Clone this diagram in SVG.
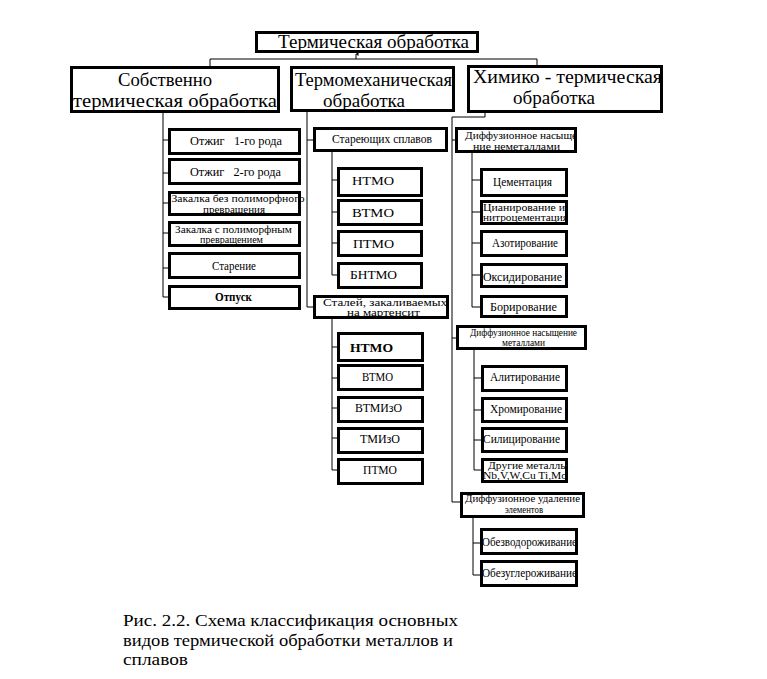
<svg xmlns="http://www.w3.org/2000/svg" width="767" height="679" viewBox="0 0 767 679">
<style>
.b{fill:#fff;stroke:#000;stroke-width:3}
.c{fill:none;stroke:#000;stroke-width:1}
text{font-family:"Liberation Serif","DejaVu Serif","Times New Roman",serif;fill:#000;text-anchor:middle}
.s{font-size:11.5px}
.m{font-size:12.5px}
.l{font-size:18px}
.t{font-size:19px}
.x{font-size:9.3px}
.cap{font-size:17.5px;text-anchor:start}
</style>
<defs>
<marker id="ar" markerWidth="4" markerHeight="4" refX="2" refY="0.5" orient="auto-start-reverse" markerUnits="userSpaceOnUse"><path d="M0,3 L2,0 L4,3 Z" fill="#000"/></marker>
</defs>
<rect width="767" height="679" fill="#fff"/>
<g id="connectors">
<path class="c" d="M356,59 V54" marker-end="url(#ar)"/>
<path class="c" d="M210,66 V59 H537 V65"/>
<path class="c" d="M163,113 V297 M163,140 H168 M163,173 H168 M163,203 H168 M163,233 H168 M163,268 H168 M163,297 H168"/>
<path class="c" d="M307,112 V307 H313 M307,140 H313"/>
<path class="c" d="M332,152 V275 M332,180 H337 M332,212 H337 M332,243 H337 M332,275 H337"/>
<path class="c" d="M332,318 V470 M332,347 H337 M332,378 H337 M332,408 H337 M332,438 H337 M332,470 H337"/>
<path class="c" d="M485,113 V117 H452 V502 H460 M452,140 H455 M452,338 H456"/>
<path class="c" d="M472,153 V307 M472,180 H480 M472,212 H480 M472,243 H480 M472,275 H480 M472,307 H480"/>
<path class="c" d="M474,350 V470 M474,378 H481 M474,410 H481 M474,440 H481 M474,470 H481"/>
<path class="c" d="M473,518 V575 M473,543 H480 M473,575 H480"/>
</g>
<g id="n-root"><rect class="b" x="256.5" y="32.5" width="221" height="19"/><text class="t" x="373.5" y="48" textLength="191" lengthAdjust="spacingAndGlyphs">Термическая обработка</text></g>
<g id="n-sobst"><rect class="b" x="71.5" y="67.5" width="207" height="44"/><text class="l"><tspan x="165" y="86" textLength="94" lengthAdjust="spacingAndGlyphs">Собственно</tspan><tspan x="175" y="106.5" textLength="204" lengthAdjust="spacingAndGlyphs">термическая обработка</tspan></text></g>
<g id="n-termomech"><rect class="b" x="291.5" y="67.5" width="162" height="43"/><text class="l"><tspan x="373.5" y="86" textLength="157" lengthAdjust="spacingAndGlyphs">Термомеханическая</tspan><tspan x="364" y="106.5" textLength="82" lengthAdjust="spacingAndGlyphs">обработка</tspan></text></g>
<g id="n-himiko"><rect class="b" x="468.5" y="66.5" width="193" height="45"/><text class="l"><tspan x="567.5" y="83" textLength="189" lengthAdjust="spacingAndGlyphs">Химико - термическая</tspan><tspan x="554" y="103.5" textLength="82" lengthAdjust="spacingAndGlyphs">обработка</tspan></text></g>

<g id="n-otzhig1"><rect class="b" x="169.5" y="129.5" width="130" height="24"/><text class="s" x="236" y="145" textLength="92" lengthAdjust="spacingAndGlyphs">Отжиг&#160;&#160;&#160;1-го рода</text></g>
<g id="n-otzhig2"><rect class="b" x="169.5" y="159.5" width="130" height="24"/><text class="s" x="235.5" y="176" textLength="91" lengthAdjust="spacingAndGlyphs">Отжиг&#160;&#160;&#160;2-го рода</text></g>
<g id="n-zakalka1"><rect class="b" x="169.5" y="192.5" width="130" height="22"/><text class="x"><tspan x="238" y="202" textLength="133" lengthAdjust="spacingAndGlyphs">Закалка без полиморфного</tspan><tspan x="234" y="212.5" textLength="62" lengthAdjust="spacingAndGlyphs">превращения</tspan></text></g>
<g id="n-zakalka2"><rect class="b" x="169.5" y="222.5" width="130" height="23"/><text class="x"><tspan x="233.5" y="232.5" textLength="117" lengthAdjust="spacingAndGlyphs">Закалка с полиморфным</tspan><tspan x="231.5" y="243" textLength="63" lengthAdjust="spacingAndGlyphs">превращением</tspan></text></g>
<g id="n-starenie"><rect class="b" x="169.5" y="253.5" width="130" height="24"/><text class="s" x="234" y="270" textLength="44" lengthAdjust="spacingAndGlyphs">Старение</text></g>
<g id="n-otpusk"><rect class="b" x="169.5" y="286.5" width="130" height="22"/><text class="s" x="233.5" y="301" font-weight="bold" textLength="37" lengthAdjust="spacingAndGlyphs">Отпуск</text></g>

<g id="n-stareyush"><rect class="b" x="314.5" y="128.5" width="132" height="22"/><text class="s" x="382" y="143" textLength="100" lengthAdjust="spacingAndGlyphs">Стареющих сплавов</text></g>
<g id="n-ntmo1"><rect class="b" x="338.5" y="168.5" width="83" height="27"/><text class="m" x="373" y="185" textLength="42" lengthAdjust="spacingAndGlyphs">НТМО</text></g>
<g id="n-vtmo1"><rect class="b" x="338.5" y="200.5" width="83" height="24"/><text class="m" x="373" y="217" textLength="42" lengthAdjust="spacingAndGlyphs">ВТМО</text></g>
<g id="n-ptmo1"><rect class="b" x="338.5" y="231.5" width="83" height="24"/><text class="m" x="373.5" y="248" textLength="41" lengthAdjust="spacingAndGlyphs">ПТМО</text></g>
<g id="n-bntmo"><rect class="b" x="338.5" y="263.5" width="83" height="24"/><text class="m" x="373.5" y="279" textLength="47" lengthAdjust="spacingAndGlyphs">БНТМО</text></g>
<g id="n-staley"><rect class="b" x="314.5" y="296.5" width="133" height="21"/><text class="x"><tspan x="385" y="305.5" textLength="124" lengthAdjust="spacingAndGlyphs">Сталей, закаливаемых</tspan><tspan x="383.5" y="315.5" textLength="73" lengthAdjust="spacingAndGlyphs">на мартенсит</tspan></text></g>
<g id="n-ntmo2"><rect class="b" x="338.5" y="333.5" width="84" height="27"/><text class="m" x="371.5" y="352" font-weight="bold" textLength="43" lengthAdjust="spacingAndGlyphs">НТМО</text></g>
<g id="n-vtmo2"><rect class="b" x="338.5" y="365.5" width="84" height="24"/><text class="m" x="377.5" y="381" textLength="31" lengthAdjust="spacingAndGlyphs">ВТМО</text></g>
<g id="n-vtmizo"><rect class="b" x="338.5" y="397.5" width="84" height="24"/><text class="m" x="378.5" y="412" textLength="47" lengthAdjust="spacingAndGlyphs">ВТМИзО</text></g>
<g id="n-tmizo"><rect class="b" x="338.5" y="428.5" width="84" height="24"/><text class="m" x="380" y="443" textLength="40" lengthAdjust="spacingAndGlyphs">ТМИзО</text></g>
<g id="n-ptmo2"><rect class="b" x="338.5" y="459.5" width="84" height="24"/><text class="m" x="380" y="474" textLength="34" lengthAdjust="spacingAndGlyphs">ПТМО</text></g>

<g id="n-nemet"><rect class="b" x="456.5" y="128.5" width="119" height="23"/><text class="x"><tspan x="521" y="139" textLength="112" lengthAdjust="spacingAndGlyphs">Диффузионное насыще</tspan><tspan x="516.5" y="149.5" textLength="87" lengthAdjust="spacingAndGlyphs">ние неметаллами</tspan></text></g>
<g id="n-cement"><rect class="b" x="481.5" y="169.5" width="85" height="26"/><text class="s" x="522.5" y="186" textLength="59" lengthAdjust="spacingAndGlyphs">Цементация</text></g>
<g id="n-cian"><rect class="b" x="481.5" y="201.5" width="85" height="22"/><text class="x"><tspan x="524" y="210.5" textLength="82" lengthAdjust="spacingAndGlyphs">Цианирование и</tspan><tspan x="525.5" y="221" textLength="85" lengthAdjust="spacingAndGlyphs">нитроцементация</tspan></text></g>
<g id="n-azot"><rect class="b" x="481.5" y="231.5" width="85" height="24"/><text class="s" x="525" y="247" textLength="66" lengthAdjust="spacingAndGlyphs">Азотирование</text></g>
<g id="n-oksid"><rect class="b" x="481.5" y="264.5" width="85" height="22"/><text class="s" x="522.5" y="281" textLength="79" lengthAdjust="spacingAndGlyphs">Оксидирование</text></g>
<g id="n-borir"><rect class="b" x="481.5" y="296.5" width="85" height="20"/><text class="m" x="523.5" y="311" textLength="67" lengthAdjust="spacingAndGlyphs">Борирование</text></g>
<g id="n-metal"><rect class="b" x="457.5" y="326.5" width="128" height="22"/><text class="x"><tspan x="523.5" y="335.5" textLength="107" lengthAdjust="spacingAndGlyphs">Диффузионное насыщение</tspan><tspan x="523.5" y="346" textLength="43" lengthAdjust="spacingAndGlyphs">металлами</tspan></text></g>
<g id="n-alit"><rect class="b" x="482.5" y="366.5" width="84" height="24"/><text class="s" x="525" y="381" textLength="70" lengthAdjust="spacingAndGlyphs">Алитирование</text></g>
<g id="n-hrom"><rect class="b" x="482.5" y="398.5" width="84" height="23"/><text class="s" x="526" y="413" textLength="72" lengthAdjust="spacingAndGlyphs">Хромирование</text></g>
<g id="n-silic"><rect class="b" x="482.5" y="428.5" width="84" height="23"/><text class="s" x="521.5" y="443" textLength="77" lengthAdjust="spacingAndGlyphs">Силицирование</text></g>
<g id="n-drugie"><rect class="b" x="482.5" y="459.5" width="84" height="22"/><text class="x"><tspan x="528" y="468.5" textLength="80" lengthAdjust="spacingAndGlyphs">Другие металлы</tspan><tspan x="525" y="479" textLength="84" lengthAdjust="spacingAndGlyphs">Nb,V,W,Cu Ti,Mo</tspan></text></g>
<g id="n-udal"><rect class="b" x="461.5" y="493.5" width="122" height="23"/><text class="x"><tspan x="522.5" y="502" textLength="115" lengthAdjust="spacingAndGlyphs">Диффузионное удаление</tspan><tspan x="524" y="512.5" textLength="38" lengthAdjust="spacingAndGlyphs">элементов</tspan></text></g>
<g id="n-obezvod"><rect class="b" x="481.5" y="529.5" width="95" height="24"/><text class="s" x="529.5" y="546" textLength="95" lengthAdjust="spacingAndGlyphs">Обезводороживание</text></g>
<g id="n-obezugl"><rect class="b" x="481.5" y="561.5" width="95" height="24"/><text class="s" x="529.5" y="577" textLength="95" lengthAdjust="spacingAndGlyphs">Обезуглероживание</text></g>

<g id="caption"><text class="cap"><tspan x="123" y="626" textLength="335" lengthAdjust="spacingAndGlyphs">Рис. 2.2. Схема классификация основных</tspan><tspan x="123" y="645.5" textLength="330" lengthAdjust="spacingAndGlyphs">видов термической обработки металлов и</tspan><tspan x="123" y="665" textLength="65" lengthAdjust="spacingAndGlyphs">сплавов</tspan></text></g>
</svg>
